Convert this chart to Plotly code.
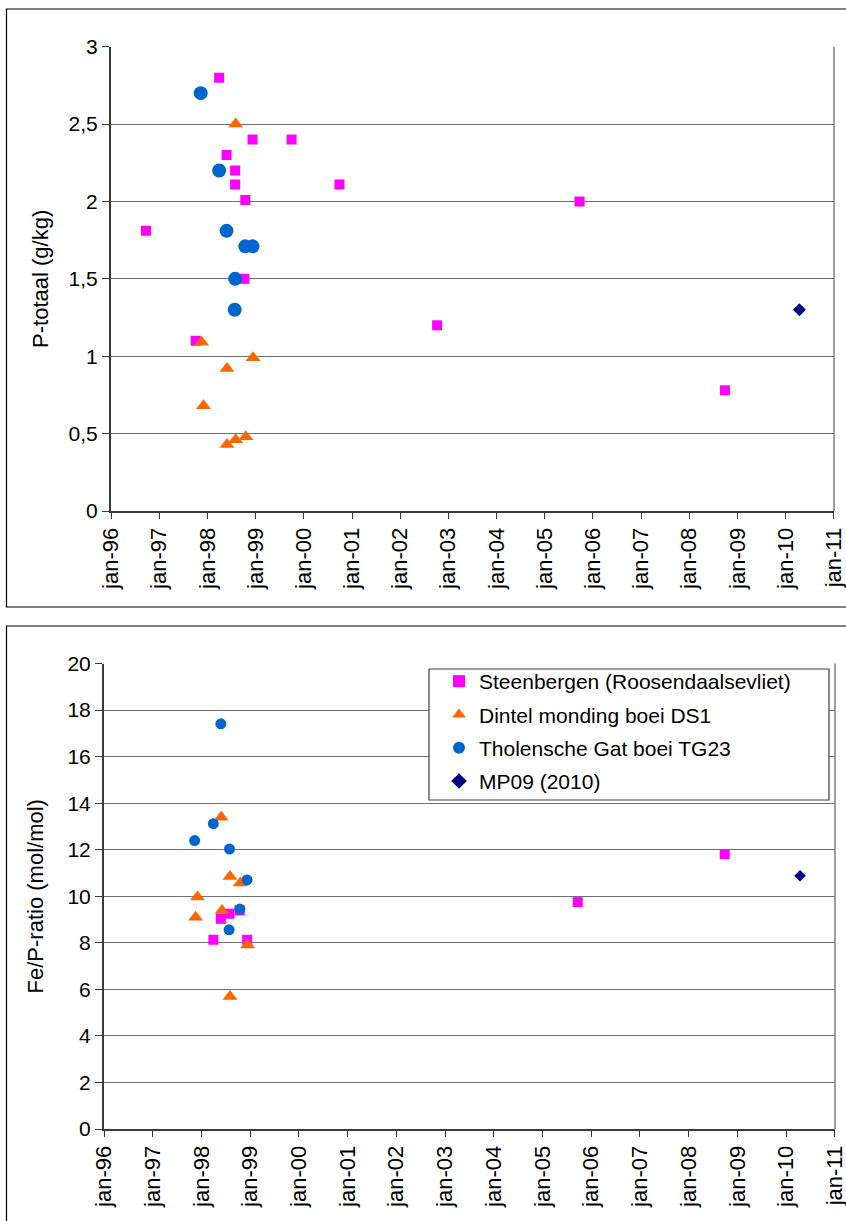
import plotly.graph_objects as go

# ---- P-totaal (g/kg) ----
steen_p_dates = ["1996-09-22", "1997-10-04", "1998-03-31", "1998-05-26", "1998-07-30",
                 "1998-07-30", "1998-10-08", "1998-10-15", "1998-12-09", "1999-10-01",
                 "2000-09-28", "2002-10-08", "2005-09-22", "2008-09-28"]
steen_p = [1.81, 1.10, 2.80, 2.30, 2.20, 2.11, 1.50, 2.01, 2.40, 2.40, 2.11, 1.20, 2.00, 0.78]

dintel_p_dates = ["1997-11-18", "1997-12-02", "1998-05-29", "1998-05-29",
                  "1998-08-03", "1998-08-03", "1998-10-19", "1998-12-13"]
dintel_p = [1.09, 0.68, 0.92, 0.43, 2.50, 0.46, 0.48, 0.99]

thol_p_dates = ["1997-11-11", "1998-03-31", "1998-05-26", "1998-07-30",
                "1998-07-27", "1998-10-15", "1998-12-09"]
thol_p = [2.70, 2.20, 1.81, 1.50, 1.30, 1.71, 1.71]

mp09_p_dates = ["2010-04-16"]
mp09_p = [1.30]

# ---- Fe/P-ratio (mol/mol) ----
steen_fe_dates = ["1998-03-31", "1998-05-26", "1998-07-30", "1998-10-15",
                  "1998-12-09", "2005-09-22", "2008-09-28"]
steen_fe = [8.13, 9.03, 9.25, 9.39, 8.13, 9.75, 11.81]

dintel_fe_dates = ["1997-11-18", "1997-12-02", "1998-05-29", "1998-06-04",
                   "1998-08-03", "1998-08-03", "1998-10-19", "1998-12-13"]
dintel_fe = [9.10, 9.97, 13.39, 9.39, 10.85, 5.69, 10.57, 7.91]

thol_fe_dates = ["1997-11-11", "1998-03-31", "1998-05-26", "1998-07-30",
                 "1998-07-27", "1998-10-15", "1998-12-09"]
thol_fe = [12.39, 13.12, 17.41, 12.03, 8.56, 9.45, 10.70]

mp09_fe_dates = ["2010-04-16"]
mp09_fe = [10.88]

# ---- axis ticks ----
year_ticks = [f"{y}-01-01" for y in range(1996, 2012)]
year_labels = [f"jan-{str(y)[2:]}" for y in range(1996, 2012)]
p_ticks = [0, 0.5, 1, 1.5, 2, 2.5, 3]
p_labels = ["0", "0,5", "1", "1,5", "2", "2,5", "3"]
fe_ticks = [0, 2, 4, 6, 8, 10, 12, 14, 16, 18, 20]
fe_labels = [str(v) for v in fe_ticks]

names = ["Steenbergen (Roosendaalsevliet)", "Dintel monding boei DS1",
         "Tholensche Gat boei TG23", "MP09 (2010)"]
colors = ["#FF00FF", "#FF6600", "#0066CC", "#000080"]
symbols = ["square", "triangle-up", "circle", "diamond"]

FONT = "Liberation Sans, Arial, sans-serif"
W, H = 846, 1221

fig = go.Figure()

top_sets = [(steen_p_dates, steen_p, 10), (dintel_p_dates, dintel_p, 13),
            (thol_p_dates, thol_p, 14), (mp09_p_dates, mp09_p, 10)]
for i, (xs, ys, sz) in enumerate(top_sets):
    fig.add_trace(go.Scatter(
        x=xs, y=ys, mode="markers", name=names[i], showlegend=False,
        marker=dict(symbol=symbols[i], color=colors[i], size=sz, line=dict(width=0)),
        xaxis="x", yaxis="y"))

bot_sets = [(steen_fe_dates, steen_fe, 10), (dintel_fe_dates, dintel_fe, 13),
            (thol_fe_dates, thol_fe, 11), (mp09_fe_dates, mp09_fe, 9)]
for i, (xs, ys, sz) in enumerate(bot_sets):
    fig.add_trace(go.Scatter(
        x=xs, y=ys, mode="markers", name=names[i], showlegend=True,
        legendgroup=f"g{i}",
        marker=dict(symbol=symbols[i], color=colors[i], size=sz, line=dict(width=0)),
        xaxis="x2", yaxis="y2"))

xaxis_common = dict(
    type="date", range=["1996-01-01", "2011-01-03"],
    tickmode="array", tickvals=year_ticks, ticktext=year_labels,
    tickangle=-90, ticks="outside", ticklen=6, tickwidth=1, tickcolor="#3a3a3a",
    showline=True, linecolor="#3a3a3a", linewidth=2,
    showgrid=False, zeroline=False, automargin=False,
    ticklabeloverflow="allow",
    tickfont=dict(family=FONT, size=22, color="black"),
)
yaxis_common = dict(
    ticks="outside", ticklen=7, tickwidth=1, tickcolor="#3a3a3a",
    showline=True, linecolor="#3a3a3a", linewidth=2,
    showgrid=True, gridcolor="#707070", gridwidth=1, zeroline=False,
    automargin=False,
    tickfont=dict(family=FONT, size=21, color="black"),
    tickmode="array",
)

fig.update_layout(
    width=W, height=H,
    margin=dict(l=0, r=0, t=0, b=0, autoexpand=False),
    paper_bgcolor="white", plot_bgcolor="white",
    font=dict(family=FONT, color="black"),
    xaxis=dict(xaxis_common, domain=[111 / W, 834 / W], anchor="y"),
    yaxis=dict(yaxis_common, domain=[(H - 511) / H, (H - 46.7) / H], anchor="x",
               range=[0, 3], tickvals=p_ticks, ticktext=p_labels,
               title=dict(text="P-totaal (g/kg)", standoff=14,
                          font=dict(family=FONT, size=22, color="black"))),
    xaxis2=dict(xaxis_common, domain=[104 / W, 835 / W], anchor="y2"),
    yaxis2=dict(yaxis_common, domain=[(H - 1129) / H, (H - 663.5) / H], anchor="x2",
                range=[0, 20], tickvals=fe_ticks, ticktext=fe_labels,
                title=dict(text="Fe/P-ratio (mol/mol)", standoff=18,
                           font=dict(family=FONT, size=22, color="black"))),
    legend=dict(
        x=439 / W, y=(H - 661) / H, xanchor="left", yanchor="top",
        bgcolor="rgba(0,0,0,0)", borderwidth=0,
        font=dict(family=FONT, size=21, color="black"),
        tracegroupgap=3, itemsizing="constant",
    ),
    shapes=[
        # outer chart frames
        dict(type="rect", xref="paper", yref="paper", x0=6.5 / W, x1=1.02,
             y0=(H - 607) / H, y1=(H - 9) / H, line=dict(color="black", width=1.2)),
        dict(type="rect", xref="paper", yref="paper", x0=6.5 / W, x1=1.02,
             y0=-0.02, y1=(H - 626) / H, line=dict(color="black", width=1.2)),
        # right borders of the plot areas
        dict(type="line", xref="x domain", yref="y domain", x0=1, x1=1, y0=0, y1=1,
             line=dict(color="#808080", width=1.5)),
        dict(type="line", xref="x2 domain", yref="y2 domain", x0=1, x1=1, y0=0, y1=1,
             line=dict(color="#808080", width=1.5)),
        # legend box
        dict(type="rect", xref="paper", yref="paper", x0=429 / W, x1=829 / W,
             y0=(H - 800) / H, y1=(H - 669) / H, fillcolor="white",
             line=dict(color="#404040", width=1.2), layer="above"),
    ],
)

fig.write_html("out.html")
